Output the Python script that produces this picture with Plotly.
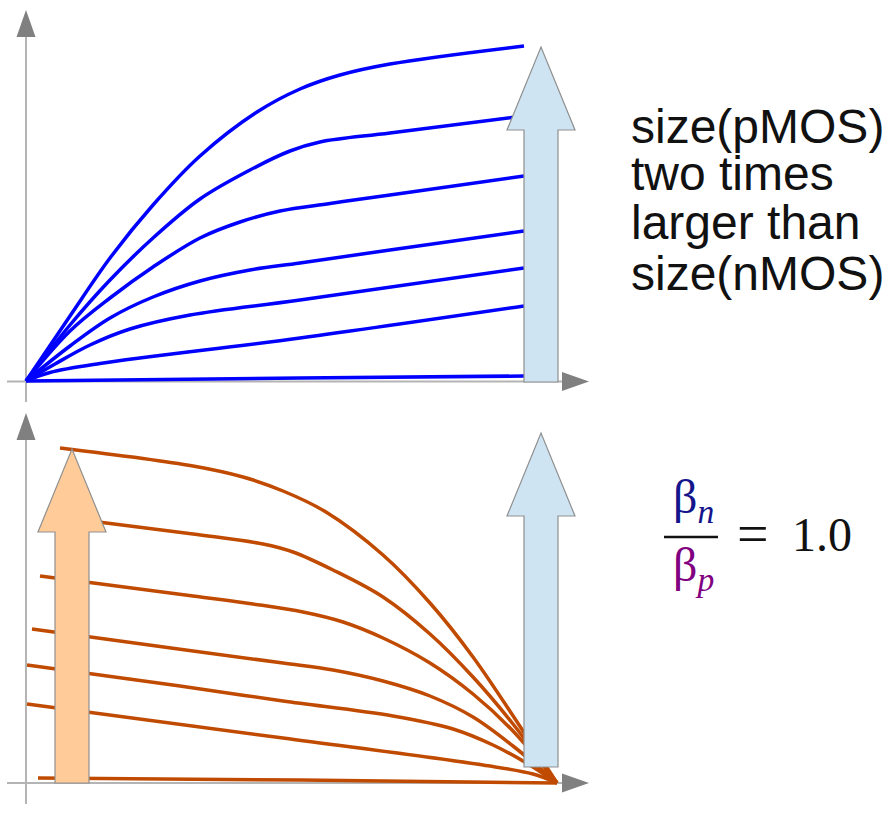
import plotly.graph_objects as go

W, H = 889, 822

# ---- nMOS output characteristics (top panel): V_DS in V, I_D in arbitrary units ----
n_vds = [
    [0.00, 0.44, 0.84, 1.27, 1.74, 2.31, 2.74, 3.14, 3.64, 4.98],
    [0.00, 0.44, 0.84, 1.27, 1.74, 2.24, 2.64, 2.94, 3.64, 4.98],
    [0.00, 0.44, 0.84, 1.27, 1.74, 2.14, 2.54, 3.04, 3.64, 4.98],
    [0.00, 0.44, 0.84, 1.27, 1.74, 2.24, 2.74, 3.64, 4.98],
    [0.00, 0.29, 0.64, 1.04, 1.64, 2.74, 4.98],
    [0.00, 0.24, 0.74, 2.74, 4.98],
    [0.00, 2.74, 4.98],
]
n_id = [
    [0.00, 0.65, 1.23, 1.76, 2.25, 2.69, 2.92, 3.06, 3.17, 3.35],
    [0.00, 0.56, 1.01, 1.43, 1.82, 2.11, 2.30, 2.39, 2.48, 2.65],
    [0.00, 0.50, 0.83, 1.14, 1.43, 1.59, 1.70, 1.775, 1.86, 2.05],
    [0.00, 0.35, 0.63, 0.84, 1.00, 1.11, 1.18, 1.31, 1.50],
    [0.00, 0.17, 0.36, 0.52, 0.66, 0.81, 1.13],
    [0.00, 0.085, 0.175, 0.43, 0.75],
    [0.00, 0.03, 0.05],
]

# ---- pMOS load curves (bottom panel): V_out in V, I_D in arbitrary units ----
p_vout = [
    [0.34, 1.67, 2.17, 2.57, 3.00, 3.57, 4.04, 4.47, 4.97, 5.31],
    [0.33, 1.67, 2.37, 2.67, 3.07, 3.57, 4.04, 4.47, 4.87, 5.31],
    [0.14, 1.67, 2.27, 2.77, 3.17, 3.57, 4.04, 4.47, 4.87, 5.31],
    [0.06, 1.67, 2.57, 3.07, 3.57, 4.04, 4.47, 4.87, 5.31],
    [0.01, 1.54, 2.57, 3.67, 4.27, 4.67, 5.02, 5.31],
    [0.01, 2.57, 4.57, 5.07, 5.31],
    [0.12, 2.74, 5.31],
]
p_id = [
    [3.35, 3.17, 3.06, 2.92, 2.71, 2.28, 1.80, 1.26, 0.52, 0.00],
    [2.66, 2.49, 2.39, 2.31, 2.13, 1.86, 1.49, 1.06, 0.59, 0.00],
    [2.07, 1.87, 1.79, 1.71, 1.61, 1.45, 1.20, 0.89, 0.52, 0.00],
    [1.54, 1.32, 1.20, 1.13, 1.02, 0.87, 0.66, 0.37, 0.00],
    [1.18, 0.97, 0.82, 0.67, 0.54, 0.38, 0.19, 0.00],
    [0.79, 0.45, 0.18, 0.09, 0.00],
    [0.05, 0.03, 0.00],
]

# caption lines to the right of the nMOS panel
caption_lines = ["size(pMOS)", "two times", "larger than", "size(nMOS)"]

N_COLOR = "#0000ff"
P_COLOR = "#c04b00"
AXIS_LINE = "#b4b4b4"
AXIS_HEAD = "#808080"
ARROW_EDGE = "#8f8f8f"


def px(x):
    return x / W


def py(y):
    return 1 - y / H


fig = go.Figure()

for xs, ys in zip(n_vds, n_id):
    fig.add_trace(go.Scatter(
        x=xs, y=ys, mode="lines", yaxis="y",
        line=dict(color=N_COLOR, width=3.5, shape="spline", smoothing=1.0),
        hoverinfo="skip"))

for xs, ys in zip(p_vout, p_id):
    fig.add_trace(go.Scatter(
        x=xs, y=ys, mode="lines", yaxis="y2",
        line=dict(color=P_COLOR, width=3.5, shape="spline", smoothing=1.0),
        hoverinfo="skip"))

shapes = []


def axis_pair(x0, y0, y_low, y_top, x_left, x_right):
    """Gray coordinate cross with filled triangular heads (page pixels)."""
    shapes.append(dict(type="line", xref="paper", yref="paper", layer="below",
                       x0=px(x0), x1=px(x0), y0=py(y_low), y1=py(y_top + 26),
                       line=dict(color=AXIS_LINE, width=2)))
    shapes.append(dict(type="line", xref="paper", yref="paper", layer="below",
                       x0=px(x_left), x1=px(x_right - 26), y0=py(y0), y1=py(y0),
                       line=dict(color=AXIS_LINE, width=2)))
    up = (f"M {px(x0 - 9.5)} {py(y_top + 27)} L {px(x0)} {py(y_top)} "
          f"L {px(x0 + 9.5)} {py(y_top + 27)} Z")
    right = (f"M {px(x_right - 27)} {py(y0 - 9.5)} L {px(x_right)} {py(y0)} "
             f"L {px(x_right - 27)} {py(y0 + 9.5)} Z")
    for p in (up, right):
        shapes.append(dict(type="path", xref="paper", yref="paper", layer="below",
                           path=p, fillcolor=AXIS_HEAD, line=dict(width=0)))


def block_arrow(cx, bottom, tip, shaft_half, head_half, head_base, fill):
    pts = [(cx - shaft_half, bottom), (cx - shaft_half, head_base),
           (cx - head_half, head_base), (cx, tip), (cx + head_half, head_base),
           (cx + shaft_half, head_base), (cx + shaft_half, bottom)]
    path = "M " + " L ".join(f"{px(a)} {py(b)}" for a, b in pts) + " Z"
    shapes.append(dict(type="path", xref="paper", yref="paper", layer="above",
                       path=path, fillcolor=fill,
                       line=dict(color=ARROW_EDGE, width=1.2)))


# coordinate axes
axis_pair(26, 381.5, 402, 10, 7, 589)
axis_pair(26, 783, 804, 413, 7, 589)

# direction arrows
block_arrow(541, 382, 47, 17, 34, 130, "#cfe4f3")
block_arrow(541, 767, 433, 17, 34, 516, "#cfe4f3")
block_arrow(72, 783, 449, 17, 34, 532, "#ffcc99")

# fraction bar
shapes.append(dict(type="line", xref="paper", yref="paper", layer="above",
                   x0=px(664), x1=px(718), y0=py(537), y1=py(537),
                   line=dict(color="#111111", width=2.5)))

annotations = []
# boxes are bottom-aligned so the trimmed part is only the empty space above the glyphs
for text, yc in zip(caption_lines, [130, 177, 226, 277]):
    annotations.append(dict(
        text=text, x=px(629), y=py(yc), xref="paper", yref="paper",
        xanchor="left", yanchor="middle", valign="bottom",
        showarrow=False, height=46,
        font=dict(family="Liberation Sans", size=48, color="#111111")))

serif = "Liberation Serif"
annotations += [
    dict(text="β<sub><i>n</i></sub>", x=px(693), y=py(500), xref="paper", yref="paper",
         xanchor="center", yanchor="middle", showarrow=False,
         font=dict(family=serif, size=48, color="#14148c")),
    dict(text="β<sub><i>p</i></sub>", x=px(693), y=py(568), xref="paper", yref="paper",
         xanchor="center", yanchor="middle", showarrow=False,
         font=dict(family=serif, size=48, color="#800080")),
    dict(text="=", x=px(753), y=py(534), xref="paper", yref="paper",
         xanchor="center", yanchor="middle", showarrow=False,
         font=dict(family=serif, size=56, color="#111111")),
    dict(text="1.0", x=px(822), y=py(534), xref="paper", yref="paper",
         xanchor="center", yanchor="middle", showarrow=False,
         font=dict(family=serif, size=48, color="#111111")),
]

fig.update_layout(
    width=W, height=H, autosize=False,
    margin=dict(l=0, r=0, t=0, b=0, pad=0),
    paper_bgcolor="white", plot_bgcolor="white",
    showlegend=False,
    xaxis=dict(range=[-0.26, 8.63], visible=False, fixedrange=True),
    yaxis=dict(range=[-4.41, 3.81], visible=False, fixedrange=True),
    yaxis2=dict(range=[-0.39, 7.83], visible=False, overlaying="y", fixedrange=True),
    shapes=shapes,
    annotations=annotations,
)

fig.write_html("out.html", config={"displayModeBar": False})
